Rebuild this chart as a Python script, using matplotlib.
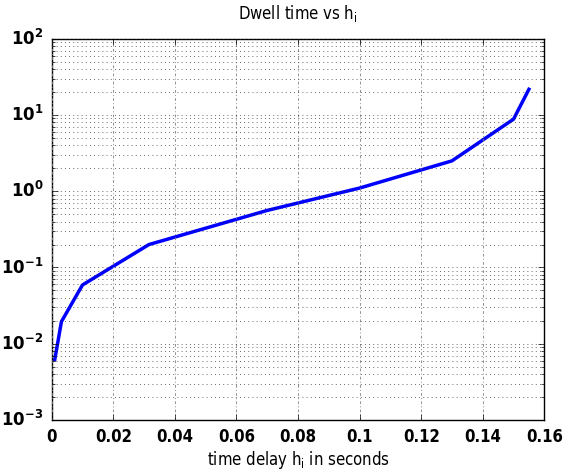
import matplotlib
matplotlib.use("Agg")
import matplotlib.pyplot as plt
from matplotlib.ticker import FixedLocator, FixedFormatter, LogLocator, NullFormatter

# data
delay_h = [0.001, 0.00316, 0.01, 0.0316, 0.07, 0.1, 0.13, 0.15, 0.155]
dwell_time = [0.0062, 0.0195, 0.059, 0.2, 0.56, 1.1, 2.5, 8.8, 21.7]
x_ticks = [0, 0.02, 0.04, 0.06, 0.08, 0.1, 0.12, 0.14, 0.16]
x_tick_labels = ["0", "0.02", "0.04", "0.06", "0.08", "0.1", "0.12", "0.14", "0.16"]
y_ticks = [1e-3, 1e-2, 1e-1, 1e0, 1e1, 1e2]
y_tick_labels = [r"$\mathbf{10^{-3}}$", r"$\mathbf{10^{-2}}$", r"$\mathbf{10^{-1}}$",
                 r"$\mathbf{10^{0}}$", r"$\mathbf{10^{1}}$", r"$\mathbf{10^{2}}$"]

plt.style.use("classic")
plt.rcParams["font.family"] = ["DejaVu Sans"]
plt.rcParams["mathtext.fontset"] = "dejavusans"
plt.rcParams["lines.scale_dashes"] = False

fig = plt.figure(figsize=(5.83, 4.75), dpi=100, facecolor="white")
ax = fig.add_axes([51.7 / 583, 55 / 475, (544.3 - 51.7) / 583, (420 - 38.7) / 475])

ax.plot(delay_h, dwell_time, color="blue", linewidth=2.5)
ax.set_yscale("log")
ax.set_xlim(0, 0.16)
ax.set_ylim(1e-3, 1e2)

ax.xaxis.set_major_locator(FixedLocator(x_ticks))
ax.xaxis.set_major_formatter(FixedFormatter(x_tick_labels))
ax.yaxis.set_major_locator(FixedLocator(y_ticks))
ax.yaxis.set_major_formatter(FixedFormatter(y_tick_labels))
ax.yaxis.set_minor_locator(LogLocator(base=10, subs=range(2, 10)))
ax.yaxis.set_minor_formatter(NullFormatter())

for lab in ax.get_xticklabels():
    lab.set_fontweight("bold")
    lab.set_fontstretch("condensed")
ax.tick_params(axis="both", which="major", labelsize=12, pad=6)

grid_style = dict(color="0.15", linestyle=(0, (0.6, 2.4)), linewidth=0.55)
ax.grid(True, which="major", axis="y", **grid_style)
ax.grid(True, which="minor", axis="y", **grid_style)
ax.grid(True, which="major", axis="x", color="0.5", linestyle=(0, (2.0, 1.6, 0.7, 1.6)), linewidth=0.6)

ax.set_title(r"Dwell time vs h$_\mathregular{i}$", fontsize=12, fontstretch="condensed", pad=14)
ax.set_xlabel(r"time delay h$_\mathregular{i}$ in seconds", fontsize=12, fontstretch="condensed", labelpad=2)

fig.savefig("out.png", dpi=100, facecolor="white")
